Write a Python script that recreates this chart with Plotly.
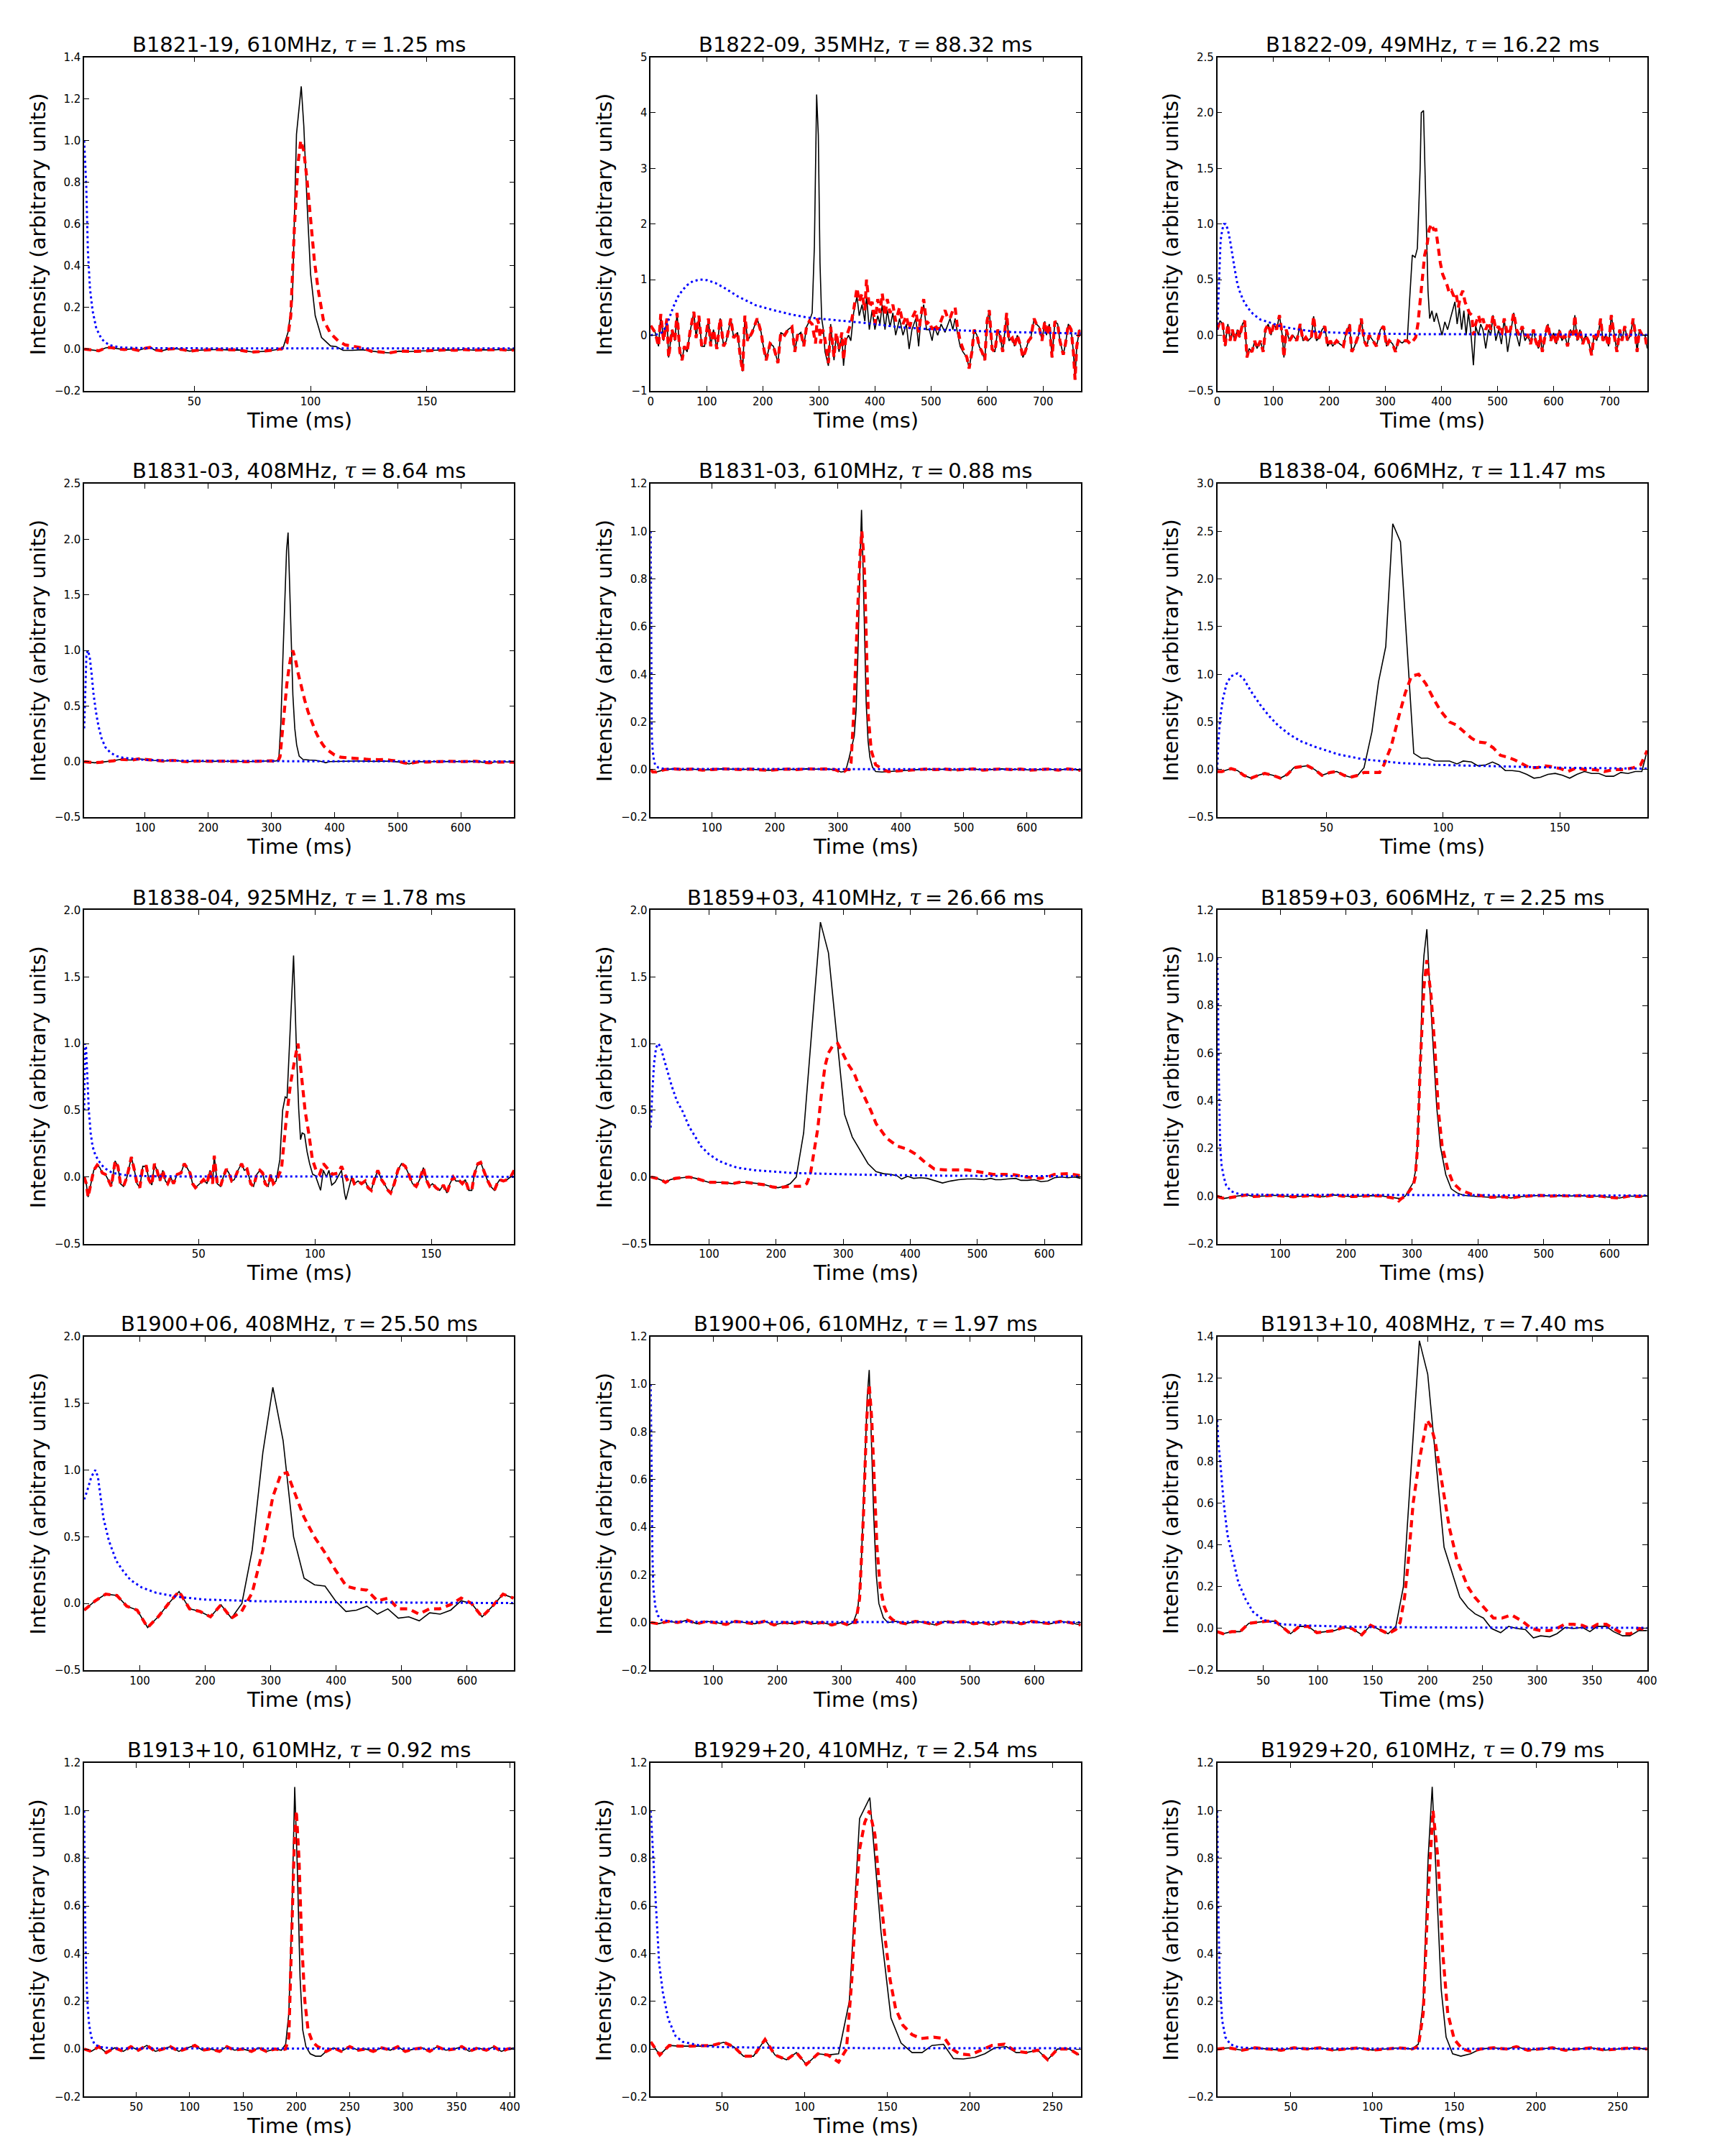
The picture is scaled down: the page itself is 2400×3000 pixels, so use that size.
import plotly.graph_objects as go

# ---------------- data: (time ms, intensity) ----------------
# Panel 1: B1821-19, 610 MHz
P1_OBS = [(2.7,0.0),(6,-0.005),(9,-0.008),(12,0.006),(14,0.008),(17,0.002),(20,-0.002),(23,0.001),(26,-0.006),(29,0.004),(31,0.008),(33,-0.004),(36,-0.008),(39,0.0),(42,0.002),(45,-0.002),(48,-0.01),(51,-0.006),(54,-0.004),(57,-0.003),(60,-0.002),(63,-0.003),(66,-0.005),(69,-0.004),(72,-0.01),(75,-0.014),(78,-0.012),(81,-0.01),(84,-0.005),(86.5,0.0),(88.3,0.01),(90.3,0.08),(92.2,0.24),(93.95,1.03),(96,1.26),(97.1,1.07),(98.5,0.7),(100,0.36),(102,0.16),(104.7,0.056),(108.6,0.015),(111,0.012),(114,-0.006),(118,-0.006),(122,-0.003),(126,-0.01),(130,-0.015),(134,-0.018),(138,-0.01),(142,-0.012),(146,-0.011),(150,-0.008),(154,-0.005),(158,-0.004),(162,-0.006),(166,-0.002),(170,-0.005),(174,-0.003),(178,-0.004),(182,-0.002),(185,-0.006),(187.5,-0.004)]
P1_MOD = [(87.5,0.0),(89.9,0.03),(91.5,0.16),(93,0.57),(94.6,0.89),(95.8,1.0),(97.1,0.95),(98.5,0.81),(100,0.62),(101.6,0.43),(103.2,0.29),(105.5,0.14),(108.6,0.075),(111.8,0.04),(114.9,0.02),(118.8,0.012),(122.7,0.005)]
P1_KER = [(2.7,1.0),(3.1,0.92),(3.6,0.78),(4.3,0.47),(5.2,0.29),(6.3,0.185),(7.9,0.1),(10.2,0.048),(13.3,0.02),(18,0.008),(30,0.004),(187.5,0.003)]

# Panel 2: B1822-09, 35 MHz
P2_OBS = [(0,0.17),(8,0.05),(14,-0.2),(18,0.38),(23,-0.1),(29,0.3),(32,-0.4),(38,0.1),(43,-0.1),(47,0.4),(52,-0.3),(56,-0.45),(60,-0.2),(65,-0.3),(70,0.05),(77,0.42),(81,-0.05),(86,0.35),(91,-0.2),(96,-0.2),(103,0.3),(107,-0.2),(112,0.1),(118,-0.25),(124,0.3),(130,-0.2),(135,-0.1),(143,0.3),(148,-0.05),(155,0.05),(160,-0.4),(164,-0.65),(168,0.35),(173,-0.1),(181,0.05),(190,0.3),(197,0.05),(200,-0.15),(206,-0.45),(213,-0.15),(219,-0.2),(227,-0.5),(232,0.05),(239,0.0),(245,0.1),(252,0.15),(257,-0.3),(262,0.0),(268,0.05),(273,-0.2),(278,0.15),(283,0.25),(288,0.4),(292,1.6),(296,4.33),(299,3.6),(302,1.3),(305,0.3),(308,0.1),(311,-0.3),(317,-0.55),(321,0.2),(327,-0.45),(331,0.0),(336,-0.3),(341,0.0),(344,-0.55),(348,-0.1),(353,0.0),(357,-0.1),(362,0.4),(368,0.7),(372,0.35),(377,0.55),(382,0.25),(385,0.7),(390,0.1),(395,0.45),(400,0.1),(405,0.35),(409,0.2),(413,0.55),(418,0.1),(422,0.45),(427,0.15),(432,0.4),(437,0.0),(444,0.3),(450,0.0),(456,0.2),(461,-0.25),(466,0.1),(473,0.3),(478,-0.2),(482,0.3),(487,0.55),(492,0.1),(497,0.1),(502,-0.1),(506,0.15),(512,0.0),(518,0.2),(525,0.05),(530,0.2),(534,0.3),(539,0.1),(543,0.3),(547,0.05),(552,-0.2),(557,-0.3),(564,-0.4),(568,-0.6),(573,-0.3),(577,0.1),(582,0.0),(586,-0.2),(591,-0.3),(596,-0.45),(600,0.25),(604,0.45),(609,-0.25),(614,-0.3),(619,0.1),(623,0.0),(628,-0.3),(635,0.4),(639,-0.1),(645,-0.05),(649,-0.2),(654,0.0),(660,-0.2),(664,-0.4),(668,-0.3),(674,-0.1),(678,-0.05),(684,0.3),(688,0.2),(693,0.15),(698,-0.1),(703,0.25),(706,0.0),(711,0.2),(716,-0.4),(721,0.25),(726,0.2),(730,-0.1),(736,-0.35),(740,-0.15),(745,0.2),(750,0.1),(754,-0.3),(757,-0.8),(760,-0.2),(765,0.1),(767,0.0)]
P2_MOD = [(278,0.15),(283,0.25),(288,0.2),(291,0.0),(294,-0.15),(297,0.3),(300,0.2),(303,-0.15),(306,0.1),(309,0.05),(314,-0.3),(317,-0.5),(321,0.15),(327,-0.4),(331,0.05),(336,-0.25),(341,0.05),(344,-0.45),(348,-0.05),(353,0.1),(357,0.2),(362,0.45),(368,0.85),(372,0.6),(377,0.75),(382,0.45),(385,1.0),(390,0.5),(395,0.6),(400,0.2),(405,0.65),(409,0.4),(413,0.75),(418,0.35),(422,0.65),(427,0.4),(432,0.55),(437,0.25),(444,0.5),(450,0.2),(456,0.35),(461,0.1),(466,0.3),(473,0.45),(478,0.05),(482,0.35),(487,0.65),(492,0.2),(497,0.25),(502,0.1),(506,0.2),(512,0.1),(518,0.25),(525,0.45),(530,0.3),(534,0.3),(539,0.45),(543,0.5),(547,0.15),(552,-0.1),(557,-0.25)]
P2_KER = [(0,0.0),(10,0.01),(20,0.05),(27,0.15),(33,0.3),(40,0.5),(48,0.68),(56,0.8),(65,0.9),(75,0.97),(88,1.0),(100,0.99),(115,0.94),(130,0.86),(155,0.7),(187,0.54),(219,0.45),(252,0.37),(278,0.32),(317,0.28),(382,0.22),(447,0.14),(512,0.1),(577,0.076),(642,0.056),(767,0.03)]

# Panel 3: B1822-09, 49 MHz
P3_OBS = [(0,0.05),(5,0.13),(10,0.1),(14,-0.1),(19,0.1),(23,-0.05),(27,0.05),(31,-0.05),(36,0.05),(40,-0.02),(45,0.1),(49,0.13),(53,-0.2),(57,-0.12),(62,-0.15),(67,-0.05),(71,-0.12),(77,-0.05),(82,-0.15),(86,0.05),(91,0.1),(96,0.0),(101,0.1),(106,0.05),(111,0.18),(116,0.0),(119,-0.2),(123,0.05),(129,-0.05),(135,0.0),(142,-0.05),(148,0.1),(153,-0.05),(158,-0.02),(162,-0.05),(168,-0.02),(172,0.17),(177,-0.05),(182,-0.02),(187,0.05),(192,0.08),(197,-0.1),(202,-0.05),(206,-0.1),(213,-0.05),(219,-0.08),(225,-0.1),(229,0.0),(236,0.1),(240,-0.15),(245,-0.1),(252,0.0),(257,0.15),(262,-0.05),(267,-0.1),(271,0.0),(278,-0.05),(284,-0.1),(291,0.05),(297,0.08),(302,-0.1),(307,-0.05),(313,-0.08),(318,-0.15),(323,-0.05),(330,-0.07),(335,-0.05),(339,-0.05),(343,0.3),(348,0.72),(353,0.7),(357,0.78),(362,1.5),(364,2.0),(368,2.02),(372,1.2),(376,0.4),(379,0.15),(383,0.22),(387,0.12),(391,0.2),(396,0.1),(401,0.0),(406,0.12),(411,0.05),(416,0.15),(420,0.22),(424,0.3),(428,0.1),(432,0.25),(436,0.05),(440,0.22),(444,0.0),(448,0.2),(452,0.05),(457,-0.27),(461,0.08),(466,0.0),(470,0.1),(474,0.05),(479,-0.12),(484,0.05),(488,0.0),(492,0.18),(497,-0.05),(502,0.05),(507,-0.08),(512,0.15),(518,-0.15),(523,0.0),(529,0.2),(534,0.0),(539,-0.1),(544,0.08),(549,-0.05),(554,0.0),(559,-0.08),(564,0.05),(568,-0.05),(573,-0.12),(576,0.0),(580,-0.15),(585,0.0),(590,0.1),(595,-0.05),(600,0.02),(605,-0.08),(610,0.05),(615,-0.05),(620,0.0),(625,-0.1),(630,0.05),(635,0.0),(638,0.18),(642,-0.05),(647,0.05),(652,-0.08),(657,0.0),(662,-0.05),(668,-0.18),(672,0.0),(677,-0.05),(681,0.05),(684,0.15),(688,-0.05),(693,0.0),(698,-0.1),(703,0.18),(708,0.0),(713,-0.15),(718,0.05),(722,-0.05),(727,0.08),(732,-0.05),(737,0.0),(742,0.15),(746,0.0),(749,-0.15),(753,0.05),(758,0.0),(763,0.0),(767,-0.12)]
P3_MOD = [(339,-0.05),(345,-0.08),(350,-0.05),(354,-0.02),(358,0.1),(362,0.3),(366,0.55),(370,0.72),(374,0.8),(378,0.95),(382,1.0),(386,0.95),(390,0.95),(394,0.78),(398,0.65),(402,0.55),(406,0.5),(410,0.45),(414,0.38),(418,0.4),(422,0.35),(426,0.38),(430,0.25),(434,0.35),(438,0.4),(442,0.3),(446,0.25),(450,0.2),(454,0.18),(457,0.0),(461,0.1),(466,0.18),(470,0.1),(474,0.15),(479,0.05),(484,0.12),(488,0.05),(492,0.18),(497,0.05),(502,0.08),(507,0.0),(512,0.15),(518,0.0),(523,0.05),(529,0.2),(534,0.05),(539,0.0),(544,0.08),(549,0.0)]
P3_KER = [(0,0.05),(2,0.3),(4,0.65),(6,0.85),(9,0.95),(12,1.0),(15,1.0),(19,0.95),(23,0.85),(27,0.72),(31,0.6),(36,0.46),(41,0.38),(47,0.31),(54,0.25),(64,0.19),(77,0.14),(90,0.12),(110,0.085),(129,0.065),(160,0.04),(194,0.026),(250,0.016),(350,0.01),(500,0.006),(767,0.003)]

# Panel 4: B1831-03, 408 MHz
P4_OBS = [(3.4,0.0),(12,-0.005),(20,-0.01),(30,-0.005),(40,0.0),(50,0.008),(60,0.02),(70,0.015),(80,0.015),(90,0.025),(100,0.02),(110,0.012),(120,0.01),(130,0.005),(140,0.01),(150,0.01),(160,0.002),(170,0.0),(180,0.005),(190,0.003),(200,0.0),(210,0.003),(220,0.005),(230,0.002),(240,0.005),(250,0.002),(260,0.0),(270,0.002),(280,0.0),(290,0.005),(300,0.008),(306,0.005),(309.7,0.01),(312,0.05),(315,0.35),(318,0.9),(321,1.45),(324,1.9),(326.4,2.06),(329,1.55),(331.5,1.1),(334,0.6),(337,0.3),(340,0.15),(344,0.05),(350,0.02),(360,0.015),(370,0.012),(380,0.0),(386,-0.01),(392,0.0),(400,0.002),(410,0.0),(420,0.003),(430,0.005),(440,0.005),(450,0.003),(460,0.0),(470,0.002),(480,0.005),(490,0.003),(500,-0.002),(510,-0.01),(518,-0.02),(526,-0.008),(535,0.0),(545,-0.003),(555,0.0),(565,0.002),(575,0.0),(585,0.003),(595,0.0),(605,0.002),(615,0.0),(625,0.003),(635,-0.005),(645,-0.01),(655,-0.003),(665,0.0),(675,-0.003),(684.5,-0.005)]
P4_MOD = [(306,0.0),(309.7,-0.005),(313.7,0.045),(317,0.25),(321,0.505),(324.5,0.7),(328,0.85),(331,0.95),(333.9,1.0),(338,0.92),(342.5,0.79),(347,0.68),(352.9,0.55),(358,0.45),(364.4,0.35),(370,0.27),(375.9,0.2),(383,0.14),(390,0.1),(400,0.06),(410,0.04),(427.5,0.03),(440,0.025),(455,0.02),(470,0.018),(479,0.02),(490,0.012),(500,0.005)]
P4_KER = [(3.4,0.3),(5,0.6),(6.9,0.95),(9,1.0),(12,0.95),(15,0.8),(18,0.62),(22,0.45),(26,0.32),(31,0.21),(37,0.13),(45,0.08),(55,0.05),(65,0.035),(80,0.025),(95,0.018),(120,0.012),(160,0.008),(250,0.005),(400,0.003),(684.5,0.002)]

# Panel 5: B1831-03, 610 MHz
P5_OBS = [(2.9,0.0),(6,-0.01),(12,-0.01),(18,-0.006),(25,0.0),(40,0.003),(55,0.0),(70,0.002),(85,-0.002),(100,0.0),(115,0.003),(130,0.002),(145,0.0),(160,0.002),(175,0.0),(190,-0.003),(205,0.0),(220,0.002),(235,0.0),(250,0.003),(265,0.002),(280,0.003),(295,0.0),(305,-0.01),(310,-0.008),(314,0.01),(318,0.05),(322,0.1),(326,0.14),(329,0.25),(332,0.5),(335,0.85),(337.6,1.09),(340,0.85),(342.5,0.52),(345,0.28),(348,0.12),(351,0.05),(355,0.01),(360,-0.008),(370,-0.01),(380,-0.008),(395,-0.005),(410,-0.002),(425,0.0),(440,0.002),(455,0.0),(470,0.002),(485,-0.002),(500,0.0),(515,0.003),(530,-0.002),(545,0.0),(560,0.003),(575,0.0),(590,0.002),(605,-0.002),(620,0.0),(635,0.002),(650,-0.002),(665,0.003),(685.5,-0.003)]
P5_MOD = [(314,0.0),(318,0.0),(321,0.03),(325.5,0.25),(328,0.45),(331.2,0.65),(335.2,0.9),(338.1,1.0),(340.5,0.92),(342.8,0.8),(345.6,0.5),(348.5,0.22),(353,0.08),(360,0.02),(366,0.01),(372,0.0)]
P5_KER = [(2.9,1.0),(3.3,0.6),(3.8,0.3),(4.5,0.15),(6,0.08),(8,0.04),(10,0.02),(15,0.008),(25,0.003),(685.5,0.001)]

# Panel 6: B1838-04, 606 MHz
P6_OBS = [(3.2,-0.02),(5.2,-0.02),(9.1,0.01),(11.9,-0.01),(14.6,-0.06),(17.7,-0.09),(20.8,-0.06),(23.6,-0.04),(27,-0.06),(30.2,-0.09),(33.3,-0.05),(36,0.02),(38.8,0.03),(41.9,0.04),(45,0.0),(48.1,-0.06),(51.6,-0.03),(54.4,-0.02),(57.5,-0.06),(60.3,-0.08),(63.4,-0.06),(66.1,0.02),(69.5,0.4),(72.3,0.92),(75.4,1.29),(78.4,2.58),(81.7,2.39),(87.4,0.17),(90.6,0.12),(93.4,0.12),(96.5,0.09),(99.6,0.09),(102.7,0.09),(105.9,0.06),(108.6,0.09),(112.1,0.08),(114.9,0.04),(118.3,0.05),(121.1,0.08),(123.8,0.05),(126.6,-0.01),(129.6,-0.01),(132.7,-0.02),(135.8,-0.05),(138.9,-0.09),(141.7,-0.08),(144.9,-0.05),(148,-0.04),(151.1,-0.06),(154.2,-0.09),(157.3,-0.05),(160.5,-0.02),(163.6,-0.04),(166.7,-0.04),(169.8,-0.07),(173,-0.07),(176.1,-0.03),(179.2,-0.04),(182.3,-0.02),(185.1,-0.02),(187.4,0.2)]
P6_MOD = [(63.4,-0.06),(66.1,-0.03),(69.2,-0.03),(72.8,-0.03),(74.6,0.05),(77.8,0.25),(80.9,0.55),(83.7,0.8),(86.4,0.98),(89.5,1.0),(92.6,0.9),(95.7,0.75),(98.8,0.62),(102.7,0.5),(105.5,0.47),(108.6,0.4),(112.1,0.33),(114.9,0.29),(118.3,0.28),(121.4,0.23),(124.5,0.15),(127.7,0.13),(130.8,0.1),(133.9,0.06),(137,0.02),(140.2,0.02),(143.3,0.04),(146.4,0.03),(150.3,0.01),(153.4,-0.02),(157.3,0.02),(160.5,0.0),(165.1,0.0),(169,-0.02),(173,0.0),(177.6,0.0),(181.5,0.02),(184.6,0.05),(187.4,0.2)]
P6_KER = [(3.2,0.0),(3.7,0.3),(4.5,0.55),(5.7,0.75),(7.2,0.9),(9.1,0.98),(11.9,1.01),(14.6,0.95),(17.7,0.82),(21.6,0.68),(25.5,0.56),(29.4,0.46),(34.1,0.37),(38.8,0.3),(45,0.24),(49.7,0.2),(55,0.16),(65.3,0.11),(80.9,0.07),(96.5,0.05),(112.1,0.04),(127.7,0.03),(150,0.02),(187.4,0.01)]

# Panel 7: B1838-04, 925 MHz
P7_OBS = [(0.8,0.0),(1.7,-0.05),(2.5,-0.15),(3.6,-0.05),(4.9,0.05),(6.4,0.09),(7.5,0.07),(8.6,0.03),(9.9,0.02),(11.4,-0.03),(12.5,-0.07),(14.1,0.12),(15.3,0.08),(16.4,-0.05),(17.7,-0.07),(19.2,0.0),(21.1,0.15),(22.4,0.05),(23.5,-0.05),(24.7,-0.08),(26,0.08),(27.5,0.08),(28.6,-0.02),(29.9,-0.06),(31,0.1),(32.1,0.05),(33.3,-0.03),(34.6,0.05),(35.7,-0.03),(36.7,-0.05),(38,0.0),(39.2,-0.05),(40.8,0.02),(42.4,0.03),(43.8,0.1),(45,0.07),(46.3,0.03),(47.4,-0.05),(48.6,-0.08),(50.5,-0.05),(52.1,-0.02),(53.6,-0.05),(54.9,0.05),(56,-0.05),(56.7,0.16),(58,-0.05),(59.4,-0.07),(60.6,0.0),(61.9,0.06),(63,0.03),(64.2,-0.03),(65.3,-0.02),(66.9,0.05),(68.5,0.1),(69.6,0.05),(70.8,0.06),(72.4,-0.05),(73.6,-0.07),(75,0.02),(76.3,0.05),(77.5,0.03),(78.6,-0.05),(79.9,-0.07),(81,0.02),(82.1,-0.05),(83.3,-0.03),(84.9,0.13),(86.1,0.5),(87.2,0.6),(88,0.59),(89.2,1.08),(90.8,1.66),(92,0.97),(93,0.51),(93.8,0.28),(94.5,0.33),(95.5,0.32),(96.6,0.19),(97.7,0.1),(99,0.02),(100.2,0.01),(101.3,-0.05),(102.4,-0.1),(103.6,0.05),(104.9,0.0),(106,0.05),(107.2,-0.06),(108.6,-0.04),(109.9,0.0),(111.4,0.05),(112.7,-0.12),(113.3,-0.17),(114.6,-0.08),(115.8,0.0),(116.9,-0.05),(118.5,-0.03),(120,-0.05),(121.6,-0.03),(122.8,-0.08),(124.2,-0.1),(125.5,-0.02),(127,0.05),(128.6,-0.02),(129.8,-0.05),(131.4,-0.1),(132.5,-0.12),(134.1,-0.05),(135.6,0.05),(137.2,0.1),(138.8,0.08),(140.3,0.02),(141.9,-0.05),(143.5,-0.07),(145,-0.02),(146.6,0.07),(147.8,-0.02),(149.2,-0.07),(150.5,-0.05),(152,-0.08),(153.6,-0.1),(155.2,-0.06),(156.7,-0.12),(158,-0.05),(159.4,0.0),(160.6,-0.03),(162.2,-0.03),(163.3,-0.05),(164.6,-0.02),(166.1,-0.1),(167.4,-0.1),(168.5,0.02),(170,0.1),(171.2,0.11),(172.4,0.05),(174,-0.02),(175.5,-0.07),(177.1,-0.1),(178.3,-0.05),(179.4,-0.02),(181,-0.03),(182.5,-0.02),(184.1,0.0),(185.6,0.05)]
P7_MOD = [(82.1,-0.05),(83.3,-0.03),(84.5,0.02),(85.6,0.06),(87.7,0.44),(89.5,0.7),(91.1,0.86),(92.7,1.0),(94.2,0.76),(95.8,0.49),(97.4,0.32),(98.9,0.13),(100.5,0.05),(102,0.02),(103.6,0.1),(106,0.05),(107.5,0.02),(109.9,0.03),(111.4,0.08),(113.8,-0.02),(115.8,0.0)]
P7_KER = [(0.8,0.5),(1.1,1.0),(1.6,0.97),(2.2,0.75),(2.8,0.5),(3.6,0.33),(4.4,0.23),(5.5,0.17),(6.7,0.13),(8.3,0.09),(9.9,0.063),(13,0.03),(16,0.02),(20,0.01),(30,0.005),(185.6,0.002)]

# Panel 8: B1859+03, 410 MHz
P8_OBS = [(13,0.0),(22,-0.01),(30,-0.025),(35,-0.04),(42,-0.02),(50,-0.01),(60,-0.005),(70,0.0),(80,-0.01),(90,-0.025),(100,-0.04),(110,-0.04),(120,-0.04),(128,-0.045),(135,-0.05),(145,-0.04),(155,-0.04),(165,-0.045),(175,-0.05),(185,-0.06),(195,-0.075),(203,-0.08),(212,-0.07),(221,-0.05),(230,0.0),(241,0.33),(266,1.91),(278,1.68),(302,0.47),(313.5,0.3),(325,0.2),(337,0.1),(349,0.04),(360,0.025),(370,0.02),(380,0.01),(387,-0.015),(396,0.005),(405,-0.01),(415,-0.005),(425,-0.01),(435,-0.025),(448,-0.045),(460,-0.03),(472,-0.02),(485,-0.015),(497,-0.015),(510,-0.02),(520,-0.01),(527,-0.02),(535,-0.02),(545,-0.015),(557,-0.01),(565,-0.025),(575,-0.025),(585,-0.02),(595,-0.035),(605,-0.03),(615,-0.005),(625,0.0),(635,-0.005),(645,0.0),(654,-0.01)]
P8_MOD = [(203,-0.08),(212,-0.075),(221,-0.07),(232,-0.07),(240,-0.068),(245.6,-0.05),(251,0.02),(256.5,0.19),(262,0.36),(267.3,0.61),(272.8,0.83),(278,0.93),(284,0.98),(291.8,1.0),(300,0.92),(308,0.84),(316,0.78),(324,0.68),(332.6,0.59),(341,0.5),(349,0.4),(357,0.34),(365,0.29),(373,0.26),(381.5,0.23),(395,0.21),(408.6,0.17),(422,0.11),(436,0.06),(452,0.053),(470,0.053),(484.7,0.053),(501,0.04),(512,0.03),(523,0.02),(539,0.02),(555,0.017),(571.7,0.0),(593,-0.01),(605,0.0),(615,0.02),(637,0.025),(654,0.01)]
P8_KER = [(13,0.37),(15,0.6),(18,0.85),(21,0.97),(24.5,1.0),(28,0.97),(33.6,0.87),(39,0.77),(44.5,0.68),(52,0.57),(60.8,0.49),(70,0.38),(80,0.3),(88,0.23),(100,0.17),(115,0.12),(130,0.09),(142,0.07),(169.5,0.05),(224,0.03),(332.6,0.017),(450,0.01),(654,0.005)]

# Panel 9: B1859+03, 606 MHz
P9_OBS = [(4.4,0.0),(8,-0.005),(15,-0.01),(25,-0.005),(35,0.0),(50,0.005),(60,-0.002),(75,0.0),(90,0.003),(105,0.0),(120,-0.003),(135,0.0),(150,0.002),(165,-0.003),(180,0.005),(195,0.0),(210,-0.002),(225,0.0),(240,0.002),(255,0.0),(270,-0.005),(280,-0.01),(285,-0.008),(290,0.0),(296,0.03),(301.6,0.055),(305,0.1),(308.3,0.21),(312.7,0.56),(316,0.92),(318.2,1.01),(322.6,1.12),(326.5,0.9),(332,0.62),(337.5,0.375),(343,0.21),(351.3,0.09),(359.6,0.03),(368,0.014),(378,0.003),(390,0.0),(400,-0.002),(420,-0.005),(440,-0.003),(450,-0.008),(465,-0.002),(480,0.0),(495,0.003),(510,0.0),(525,0.002),(540,0.0),(555,0.002),(570,-0.002),(585,0.0),(600,-0.005),(615,-0.008),(630,0.0),(645,-0.002),(657,0.002)]
P9_MOD = [(276,-0.01),(280,-0.02),(284,-0.01),(290,0.0),(296,0.02),(301.6,0.04),(305,0.08),(308.3,0.2),(312.7,0.56),(318.2,0.88),(322.6,0.99),(329,0.84),(334.8,0.62),(340,0.36),(345.8,0.21),(354,0.115),(362,0.056),(373.5,0.026),(390,0.008),(400,0.003)]
P9_KER = [(4.4,1.0),(5.5,0.85),(6.5,0.55),(7.5,0.35),(8.8,0.21),(11,0.13),(14.3,0.08),(18,0.045),(25.4,0.02),(40,0.006),(657,0.002)]

# Panel 10: B1900+06, 408 MHz
P10_OBS = [(15,-0.05),(32,0.02),(48,0.07),(65,0.06),(80,-0.02),(96,-0.05),(112,-0.18),(128,-0.1),(144,0.0),(160,0.09),(176,-0.04),(192,-0.06),(208,-0.1),(224,-0.01),(240,-0.11),(256,0.0),(271.7,0.4),(288,1.13),(303.3,1.62),(319,1.22),(335,0.5),(351,0.19),(367,0.14),(383,0.13),(399,0.02),(415,-0.06),(431,-0.05),(447,-0.02),(463,-0.08),(479,-0.04),(495,-0.11),(511,-0.1),(527,-0.13),(543,-0.07),(559,-0.08),(575,-0.05),(591,0.02),(607,0.0),(623,-0.1),(639,-0.02),(655,0.07),(671,0.04)]
P10_MOD = [(240,-0.11),(255.5,-0.06),(271.7,0.08),(288,0.4),(303.3,0.8),(315.6,0.97),(325,0.98),(335,0.85),(350.6,0.65),(366.7,0.5),(383,0.38),(399,0.25),(415.6,0.13),(430.6,0.11),(447,0.1),(463,0.02),(479.4,0.04),(495,-0.04),(511,-0.04),(526.7,-0.08),(542.8,-0.04),(558,-0.04),(574,-0.01),(591,0.04)]
P10_KER = [(15,0.78),(20,0.85),(26,0.95),(32,1.0),(36,0.95),(40,0.8),(44.4,0.64),(52.8,0.47),(64,0.32),(75,0.24),(86,0.175),(103,0.12),(125,0.08),(158,0.05),(197,0.03),(280,0.017),(391,0.01),(671,0.003)]

# Panel 11: B1900+06, 610 MHz
P11_OBS = [(3,0.0),(15,-0.005),(30,0.005),(45,0.0),(60,0.01),(75,-0.005),(90,0.005),(105,0.0),(120,-0.008),(135,0.005),(150,0.0),(165,-0.005),(180,0.005),(195,-0.01),(210,0.0),(225,-0.005),(240,0.005),(255,-0.005),(270,0.0),(285,-0.01),(300,0.0),(310,-0.01),(318,0.0),(325,0.05),(330,0.2),(335,0.6),(340,0.95),(343,1.06),(346,0.8),(350,0.45),(354,0.2),(358,0.08),(365,0.02),(372,0.0),(385,0.005),(400,-0.005),(415,0.005),(430,0.0),(445,-0.01),(460,0.005),(475,0.0),(490,0.005),(505,-0.005),(520,0.0),(535,-0.01),(550,0.005),(565,0.0),(580,-0.005),(595,0.005),(610,0.0),(625,-0.005),(640,0.005),(655,0.0),(672,-0.01)]
P11_MOD = [(318,0.0),(322,0.0),(328,0.1),(334,0.45),(339,0.85),(343,1.0),(347,0.85),(351,0.55),(355,0.32),(360,0.15),(366,0.07),(372,0.03),(380,0.01),(390,0.0)]
P11_KER = [(3,1.0),(4,0.6),(5.5,0.3),(7,0.15),(10,0.07),(14,0.03),(20,0.01),(40,0.003),(672,0.001)]

# Panel 12: B1913+10, 408 MHz
P12_OBS = [(8.1,-0.015),(13.4,-0.025),(21.4,-0.015),(29,-0.015),(37,0.025),(45,0.03),(53,0.035),(61,0.035),(67,0.01),(75,-0.025),(83,0.01),(91,0.01),(99,-0.02),(107,-0.015),(115,-0.01),(123,0.005),(131,0.0),(140,-0.03),(148,0.015),(156,-0.005),(164,-0.025),(171,0.01),(177.9,0.2),(192.5,1.38),(200.1,1.22),(215,0.39),(221.7,0.28),(229.4,0.15),(236.7,0.1),(243.3,0.07),(250.9,0.05),(258.3,0.0),(266.6,-0.02),(273.9,0.01),(281.5,0.0),(289.2,-0.005),(296.5,-0.045),(303.1,-0.035),(311.4,-0.04),(318,-0.025),(325.4,0.005),(333,0.0),(341.3,0.005),(348,-0.015),(354.6,0.01),(362.9,0.01),(369.6,-0.015),(377.9,-0.035),(384.5,-0.035),(392.8,-0.01),(400.3,-0.01)]
P12_MOD = [(164,-0.025),(171,-0.005),(175,0.03),(179,0.15),(182,0.3),(186.8,0.6),(192.5,0.81),(199.5,1.0),(203,0.97),(206.8,0.9),(213.4,0.68),(220,0.48),(226.7,0.33),(236.7,0.2),(243,0.15),(250,0.11),(260,0.05),(268,0.05),(276.5,0.065),(286.5,0.035),(294.8,0.0),(303,-0.01),(311,-0.01),(318,0.0),(325,0.02),(333,0.02),(341,0.015),(348,0.0),(355,0.02),(363,0.02),(370,0.0),(378,-0.025),(385,-0.025),(393,0.0),(400.3,-0.005)]
P12_KER = [(8.1,1.0),(9,0.9),(10.8,0.8),(14.1,0.6),(17.4,0.45),(22.4,0.33),(27.4,0.22),(34,0.14),(40.7,0.08),(50.6,0.04),(67,0.02),(90.5,0.014),(140,0.007),(250,0.004),(400.3,0.003)]

# Panel 13: B1913+10, 610 MHz
P13_OBS = [(1.3,0.0),(8,-0.01),(15,0.01),(22,-0.015),(30,0.005),(38,-0.01),(45,0.01),(52,-0.005),(60,0.015),(68,-0.01),(75,0.0),(82,0.01),(90,-0.01),(98,0.005),(105,0.015),(112,-0.005),(120,0.0),(128,-0.01),(135,0.01),(142,-0.005),(150,0.0),(158,-0.01),(165,0.005),(172,-0.01),(180,0.0),(186,-0.005),(190,0.02),(193,0.15),(196,0.6),(198.5,1.1),(201,0.75),(203.5,0.3),(206,0.08),(209,0.01),(213,-0.02),(218,-0.03),(223,-0.03),(228,-0.01),(235,0.005),(242,-0.01),(250,0.01),(258,-0.005),(265,0.0),(272,-0.01),(280,0.005),(288,-0.005),(295,0.01),(302,-0.01),(310,0.0),(318,0.005),(325,-0.01),(332,0.01),(340,-0.005),(348,0.0),(355,0.01),(362,-0.01),(370,0.005),(378,-0.005),(385,0.01),(392,-0.01),(398,0.0),(404,0.005)]
P13_MOD = [(190,0.0),(193,0.05),(195.5,0.4),(198,0.85),(200,1.0),(202.5,0.8),(205,0.45),(208,0.2),(211,0.08),(215,0.03),(220,0.01),(225,0.0)]
P13_KER = [(1.3,1.0),(2,0.6),(3,0.35),(4.5,0.18),(6,0.1),(8,0.05),(11,0.02),(16,0.008),(30,0.003),(404,0.001)]

# Panel 14: B1929+20, 410 MHz
P14_OBS = [(6.8,0.03),(12.3,-0.025),(18,0.015),(24,0.012),(31,0.012),(37,0.012),(44,0.015),(51,0.028),(57,0.01),(63,-0.03),(69,-0.03),(76,0.04),(82,-0.025),(89,-0.045),(95,-0.015),(101,-0.065),(108,-0.02),(114,-0.025),(120.5,-0.02),(127,0.2),(133.2,0.967),(139.4,1.055),(146.2,0.49),(152.2,0.13),(158.3,0.025),(165,-0.015),(171,-0.015),(177,0.015),(184,0.02),(190,-0.04),(196,-0.042),(203,-0.035),(209,-0.02),(215,0.005),(222,0.01),(228,-0.015),(234,-0.015),(241,-0.005),(247,-0.045),(253,0.0),(260,0.0),(266,-0.025)]
P14_MOD = [(114,-0.025),(120.5,-0.055),(125.3,0.0),(128.6,0.3),(130.8,0.6),(133,0.83),(136.3,0.95),(139.2,1.0),(142.5,0.9),(145.1,0.69),(148.4,0.48),(151.7,0.29),(155,0.17),(159.4,0.1),(165,0.06),(170.4,0.044),(178,0.05),(184.8,0.044),(189.2,0.0),(193.6,-0.02),(200,-0.025),(206.8,-0.005),(213.4,0.015),(221,0.02),(225.5,0.0),(228.8,-0.01)]
P14_KER = [(6.8,1.0),(7.6,0.9),(8.5,0.78),(9.7,0.6),(10.8,0.47),(11.9,0.36),(14.1,0.24),(17.4,0.126),(21.8,0.055),(26.2,0.03),(37.2,0.014),(48.2,0.008),(100,0.004),(267,0.003)]

# Panel 15: B1929+20, 610 MHz
P15_OBS = [(5,0.0),(12,0.005),(20,-0.005),(28,0.005),(36,0.0),(44,-0.005),(52,0.005),(60,0.0),(68,0.005),(76,-0.005),(84,0.0),(92,0.005),(100,-0.005),(108,0.0),(116,0.005),(124,0.0),(128,0.02),(131,0.2),(134,0.8),(136.5,1.1),(139,0.7),(142,0.25),(145,0.05),(149,-0.02),(154,-0.03),(160,-0.02),(166,0.0),(174,0.005),(182,0.0),(188,0.01),(195,-0.005),(202,0.0),(210,0.005),(218,-0.005),(226,0.0),(234,0.005),(242,-0.005),(250,0.0),(258,0.005),(268,0.0)]
P15_MOD = [(124,0.0),(128,0.01),(131,0.15),(134,0.65),(137,1.0),(140,0.8),(143,0.4),(146,0.15),(150,0.04),(155,0.0),(160,-0.01)]
P15_KER = [(5,1.0),(5.6,0.6),(6.5,0.3),(8,0.12),(10,0.05),(13,0.02),(18,0.007),(30,0.002),(268,0.001)]

# ---------------- panel definitions ----------------
TITLES = ["B1821-19, 610MHz", "B1822-09, 35MHz", "B1822-09, 49MHz",
          "B1831-03, 408MHz", "B1831-03, 610MHz", "B1838-04, 606MHz",
          "B1838-04, 925MHz", "B1859+03, 410MHz", "B1859+03, 606MHz",
          "B1900+06, 408MHz", "B1900+06, 610MHz", "B1913+10, 408MHz",
          "B1913+10, 610MHz", "B1929+20, 410MHz", "B1929+20, 610MHz"]
TAUS = ["1.25", "88.32", "16.22", "8.64", "0.88", "11.47", "1.78", "26.66",
        "2.25", "25.50", "1.97", "7.40", "0.92", "2.54", "0.79"]
OBS = [P1_OBS, P2_OBS, P3_OBS, P4_OBS, P5_OBS, P6_OBS, P7_OBS, P8_OBS,
       P9_OBS, P10_OBS, P11_OBS, P12_OBS, P13_OBS, P14_OBS, P15_OBS]
MOD = [P1_MOD, P2_MOD, P3_MOD, P4_MOD, P5_MOD, P6_MOD, P7_MOD, P8_MOD,
       P9_MOD, P10_MOD, P11_MOD, P12_MOD, P13_MOD, P14_MOD, P15_MOD]
KER = [P1_KER, P2_KER, P3_KER, P4_KER, P5_KER, P6_KER, P7_KER, P8_KER,
       P9_KER, P10_KER, P11_KER, P12_KER, P13_KER, P14_KER, P15_KER]
X_RANGES = [[2.7, 187.5], [0, 767], [0, 767], [3.4, 684.5], [2.9, 685.5],
            [3.2, 187.4], [0.8, 185.6], [13, 654], [4.4, 657], [15, 672],
            [3, 672], [8.1, 400.3], [1.3, 404], [6.8, 267], [5, 268]]
XT_50 = [50, 100, 150]
XT_100 = [100, 200, 300, 400, 500, 600]
XT_0700 = [0, 100, 200, 300, 400, 500, 600, 700]
XT_400 = [50, 100, 150, 200, 250, 300, 350, 400]
XT_250 = [50, 100, 150, 200, 250]
X_TICKS = [XT_50, XT_0700, XT_0700, XT_100, XT_100, XT_50, XT_50, XT_100,
           XT_100, XT_100, XT_100, XT_400, XT_400, XT_250, XT_250]
YT_14 = [-0.2, 0.0, 0.2, 0.4, 0.6, 0.8, 1.0, 1.2, 1.4]
YT_12 = [-0.2, 0.0, 0.2, 0.4, 0.6, 0.8, 1.0, 1.2]
YT_25 = [-0.5, 0.0, 0.5, 1.0, 1.5, 2.0, 2.5]
YT_30 = [-0.5, 0.0, 0.5, 1.0, 1.5, 2.0, 2.5, 3.0]
YT_20 = [-0.5, 0.0, 0.5, 1.0, 1.5, 2.0]
YT_5 = [-1, 0, 1, 2, 3, 4, 5]
Y_TICKS = [YT_14, YT_5, YT_25, YT_25, YT_12, YT_30, YT_20, YT_20, YT_12,
           YT_20, YT_12, YT_14, YT_12, YT_12, YT_12]


def merge(obs, seg):
    a, b = seg[0][0], seg[-1][0]
    return [p for p in obs if p[0] < a] + seg + [p for p in obs if p[0] > b]


def ylab(v, integer):
    s = f"{v:.0f}" if integer else f"{v:.1f}"
    return s.replace("-", "\u2212")


# ---------------- layout geometry (pixels) ----------------
W, H = 2400, 3000
LEFT0, COLSTEP, PW = 113, 794.5, 603
TOP0, ROWSTEP, PH = 71, 597, 467
FONT = "DejaVu Sans"
TAU = '<span style="font-family:DejaVu Serif;font-style:italic">\u03c4</span>'

fig = go.Figure()
annotations = []
layout = {}

for i in range(15):
    r, c = divmod(i, 3)
    n = "" if i == 0 else str(i + 1)
    left = LEFT0 + c * COLSTEP
    top = TOP0 + r * ROWSTEP
    x0, x1 = left / W, (left + PW) / W
    y1, y0 = 1 - top / H, 1 - (top + PH) / H

    obs = OBS[i]
    mod = merge(obs, MOD[i])
    ker = KER[i]
    for pts, line in [
        (obs, dict(color="#000000", width=1.6)),
        (mod, dict(color="#ff0000", width=4.2, dash="10px,7px")),
        (ker, dict(color="#0000ff", width=3, dash="3px,4px")),
    ]:
        fig.add_trace(go.Scatter(
            x=[p[0] for p in pts], y=[p[1] for p in pts], mode="lines",
            line=line, xaxis="x" + n, yaxis="y" + n, showlegend=False,
            hoverinfo="skip"))

    yt = Y_TICKS[i]
    integer = all(float(v).is_integer() for v in yt)
    yr = [yt[0], yt[-1]]
    common = dict(ticks="inside", ticklen=7, tickwidth=1, tickcolor="black",
                  showline=True, linecolor="black", linewidth=1.5,
                  mirror="allticks", showgrid=False, zeroline=False,
                  tickfont=dict(family=FONT, size=15, color="black"))
    layout["xaxis" + n] = dict(domain=[x0, x1], range=X_RANGES[i],
                               tickvals=X_TICKS[i],
                               ticktext=[str(v) for v in X_TICKS[i]],
                               anchor="y" + n, **common)
    layout["yaxis" + n] = dict(domain=[y0, y1], range=yr, tickvals=yt,
                               ticktext=[ylab(v, integer) for v in yt],
                               anchor="x" + n, **common)

    cx = (x0 + x1) / 2
    annotations.append(dict(
        text=f"{TITLES[i]}, {TAU}\u2009=\u2009{TAUS[i]} ms",
        x=cx, y=1 - (top - 18) / H, xref="paper", yref="paper",
        xanchor="center", yanchor="middle", showarrow=False,
        font=dict(family=FONT, size=29, color="black")))
    annotations.append(dict(
        text="Time (ms)", x=cx, y=1 - (top + PH + 41) / H,
        xref="paper", yref="paper", xanchor="center", yanchor="middle",
        showarrow=False, font=dict(family=FONT, size=29, color="black")))
    annotations.append(dict(
        text="Intensity (arbitrary units)", x=(left - 65) / W,
        y=(y0 + y1) / 2, xref="paper", yref="paper", xanchor="center",
        yanchor="middle", textangle=-90, showarrow=False,
        font=dict(family=FONT, size=29, color="black")))

fig.update_layout(width=W, height=H, margin=dict(l=0, r=0, t=0, b=0),
                  paper_bgcolor="white", plot_bgcolor="white",
                  annotations=annotations, **layout)
fig.write_html("out.html")
